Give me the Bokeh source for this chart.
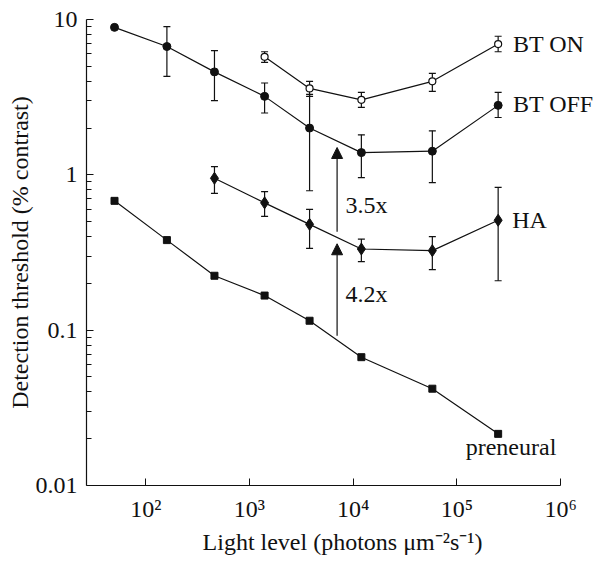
from bokeh.plotting import figure
from bokeh.models import (ColumnDataSource, Range1d, FixedTicker, CustomJSTickFormatter,
                          Whisker, TeeHead, Arrow, NormalHead, Label)
from bokeh.embed import file_html
from bokeh.resources import INLINE

# ---- data ----
light = [50, 160, 460, 1400, 3800, 12000, 58000, 250000]

bt_off_y = [8.9, 6.7, 4.6, 3.2, 2.0, 1.39, 1.42, 2.8]
bt_off_up = [None, 9.0, 6.3, 3.9, 3.3, 1.81, 1.92, 3.4]
bt_off_low = [None, 4.3, 3.0, 2.5, 0.79, 0.96, 0.89, 2.34]

bt_on_x = [1400, 3800, 12000, 58000, 250000]
bt_on_y = [5.75, 3.6, 3.04, 4.0, 6.95]
bt_on_up = [6.2, 4.0, 3.4, 4.5, 7.8]
bt_on_low = [5.3, 3.2, 2.72, 3.45, 6.2]

ha_x = [460, 1400, 3800, 12000, 58000, 250000]
ha_y = [0.95, 0.66, 0.48, 0.333, 0.325, 0.51]
ha_up = [1.13, 0.78, 0.60, 0.386, 0.40, 0.83]
ha_low = [0.76, 0.54, 0.336, 0.276, 0.245, 0.208]

pre_y = [0.68, 0.38, 0.224, 0.167, 0.115, 0.067, 0.042, 0.0215]

arrow_x = [7000, 7000]
arrow_from = [0.092, 0.43]
arrow_to = [0.36, 1.5]
fold_labels = ["4.2x", "3.5x"]
fold_x = [8430, 8430]
fold_y = [0.171, 0.643]

series_labels = ["BT ON", "BT OFF", "HA", "preneural"]
series_label_x = [347000, 347000, 341000, 121700]
series_label_y = [7.0, 2.86, 0.514, 0.0176]

x_ticks = [1e2, 1e3, 1e4, 1e5, 1e6]
x_axis_start, x_axis_end = 26.85, 1e6
x_view_end = 2.32e6          # room on the right for the series names
y_ticks = [0.01, 0.1, 1, 10]
y_minor = [0.02, 0.03, 0.04, 0.05, 0.06, 0.07, 0.08, 0.09,
           0.2, 0.3, 0.4, 0.5, 0.6, 0.7, 0.8, 0.9,
           2, 3, 4, 5, 6, 7, 8, 9]

FONT = "Liberation Serif"
INK = "#111111"
FS = "24px"

p = figure(width=602, height=561, x_axis_type="log", y_axis_type="log",
           x_range=Range1d(x_axis_start, x_view_end), y_range=Range1d(0.01, 10),
           output_backend="svg", toolbar_location=None,
           min_border_left=86, min_border_right=4, min_border_top=19, min_border_bottom=76)
p.grid.visible = False
p.outline_line_color = None
p.background_fill_color = "white"

# axes
p.xaxis.ticker = FixedTicker(ticks=x_ticks, minor_ticks=[])
p.xaxis.bounds = (x_axis_start, x_axis_end)
p.xaxis.formatter = CustomJSTickFormatter(code="""
const sup = {"0":"\u2070","1":"\u00b9","2":"\u00b2","3":"\u00b3","4":"\u2074","5":"\u2075","6":"\u2076","7":"\u2077","8":"\u2078","9":"\u2079","-":"\u207b"};
const e = Math.round(Math.log10(tick));
return "10" + String(e).split("").map(c => sup[c]).join("");
""")
p.yaxis.ticker = FixedTicker(ticks=y_ticks, minor_ticks=y_minor)
p.yaxis.formatter = CustomJSTickFormatter(code="return String(tick);")

for ax in (p.xaxis[0], p.yaxis[0]):
    ax.axis_line_color = INK
    ax.axis_line_width = 1.2
    ax.major_tick_line_color = INK
    ax.minor_tick_line_color = INK
    ax.major_tick_in = 7
    ax.major_tick_out = 0
    ax.minor_tick_in = 5
    ax.minor_tick_out = 0
    ax.major_label_text_font = FONT
    ax.major_label_text_font_size = FS
    ax.major_label_text_color = INK
    ax.axis_label_text_font = FONT
    ax.axis_label_text_font_size = FS
    ax.axis_label_text_font_style = "normal"
    ax.axis_label_text_color = INK

p.xaxis.major_label_standoff = 10
p.yaxis.major_label_standoff = 9
p.xaxis.axis_label = "Light level (photons \u03bcm\u207b\u00b2s\u207b\u00b9)"
p.yaxis.axis_label = "Detection threshold (% contrast)"
p.xaxis.axis_label_standoff = 4
p.yaxis.axis_label_standoff = 0

LW = 1.2

def whiskers(xs, up, low):
    xx, uu, ll = [], [], []
    for a, b, c in zip(xs, up, low):
        if b is not None:
            xx.append(a); uu.append(b); ll.append(c)
    src = ColumnDataSource(dict(x=xx, up=uu, low=ll))
    w = Whisker(base="x", upper="up", lower="low", dimension="height", source=src,
                line_color=INK, line_width=LW,
                upper_head=TeeHead(size=7, line_color=INK, line_width=LW),
                lower_head=TeeHead(size=7, line_color=INK, line_width=LW))
    p.add_layout(w)

# preneural
p.line(light, pre_y, line_color=INK, line_width=LW)
p.scatter(light, pre_y, marker="square", size=7, fill_color=INK, line_color=INK)

# HA
whiskers(ha_x, ha_up, ha_low)
p.line(ha_x, ha_y, line_color=INK, line_width=LW)
p.scatter(ha_x, ha_y, marker="diamond", size=12, fill_color=INK, line_color=INK)

# BT OFF
whiskers(light, bt_off_up, bt_off_low)
p.line(light, bt_off_y, line_color=INK, line_width=LW)
p.scatter(light, bt_off_y, marker="circle", size=8, fill_color=INK, line_color=INK)

# BT ON
whiskers(bt_on_x, bt_on_up, bt_on_low)
p.line(bt_on_x, bt_on_y, line_color=INK, line_width=LW)
p.scatter(bt_on_x, bt_on_y, marker="circle", size=7, fill_color="white", line_color=INK, line_width=LW)

# arrows
for ax_, a0, a1 in zip(arrow_x, arrow_from, arrow_to):
    p.add_layout(Arrow(x_start=ax_, y_start=a0, x_end=ax_, y_end=a1,
                       line_color=INK, line_width=LW,
                       end=NormalHead(size=11, fill_color=INK, line_color=INK, line_width=1)))

for t, x, y in zip(fold_labels, fold_x, fold_y):
    p.add_layout(Label(x=x, y=y, text=t, text_font=FONT, text_font_size=FS,
                       text_align="left", text_baseline="middle", text_color=INK))

for t, x, y in zip(series_labels, series_label_x, series_label_y):
    p.add_layout(Label(x=x, y=y, text=t, text_font=FONT, text_font_size=FS,
                       text_align="left", text_baseline="middle", text_color=INK))

open("out.html", "w").write(file_html(p, INLINE))
